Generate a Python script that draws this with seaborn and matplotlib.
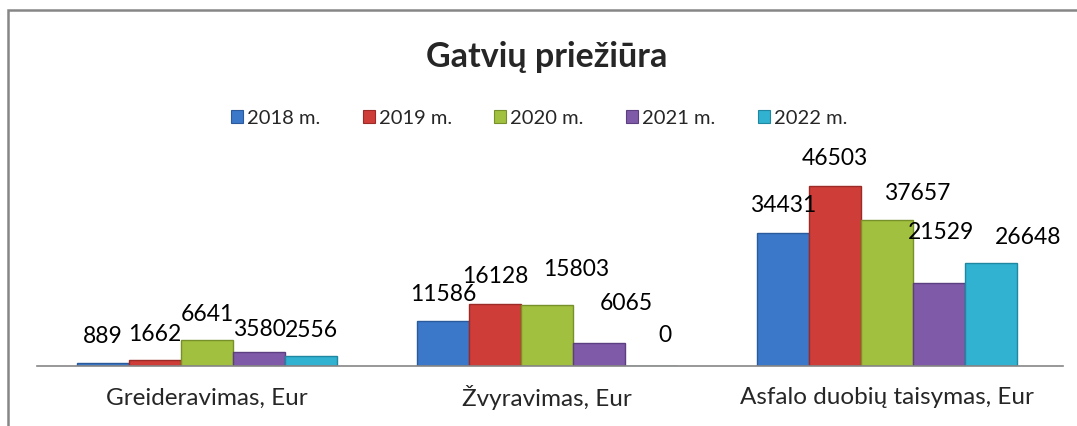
import pandas as pd
import matplotlib.pyplot as plt
import seaborn as sns
from matplotlib.patches import Rectangle

categories = ["Greideravimas, Eur", "Žvyravimas, Eur", "Asfalo duobių taisymas, Eur"]
years = ["2018 m.", "2019 m.", "2020 m.", "2021 m.", "2022 m."]
v2018 = [889, 11586, 34431]
v2019 = [1662, 16128, 46503]
v2020 = [6641, 15803, 37657]
v2021 = [3580, 6065, 21529]
v2022 = [2556, 0, 26648]
colors = ["#3b78c9", "#cf3d38", "#a2c03f", "#7f5aa8", "#30b2d0"]
edges = ["#2a5a9c", "#9c2a26", "#76902a", "#5c3f80", "#1f87a0"]

# label nudges (pixels) so the labels sit like in the original
nudge_x = [[0, 0, 0], [0, 0, 0], [0, 29, 30], [0, 27, 2], [0, 14, 37]]
nudge_y = [[0, 1, 1], [-1, 1, 2], [0, 9, 1], [-3, 13, 24], [0, 5, -1]]

series = [v2018, v2019, v2020, v2021, v2022]
rows = []
for year, vals in zip(years, series):
    for cat, v in zip(categories, vals):
        rows.append({"cat": cat, "year": year, "value": v})
df = pd.DataFrame(rows)

sns.set_style("white")
plt.rcParams["font.family"] = ["Lato", "DejaVu Sans"]

fig = plt.figure(figsize=(10.77, 4.26), dpi=100)
ax = fig.add_axes([37 / 1077, 60 / 426, 1026 / 1077, 216.7 / 426])

sns.barplot(data=df, x="cat", y="value", hue="year", palette=colors,
            width=0.765, saturation=1, ax=ax, legend=False)

for i, (cont, ec) in enumerate(zip(ax.containers, edges)):
    for j, bar in enumerate(cont):
        bar.set_edgecolor(ec)
        bar.set_linewidth(1.0)
        ax.annotate(str(series[i][j]),
                    xy=(bar.get_x() + bar.get_width() / 2, bar.get_height()),
                    xytext=(nudge_x[i][j], 26 + nudge_y[i][j]), textcoords="offset pixels",
                    ha="center", va="center", fontsize=16.5, color="black")

ax.set_ylim(0, 56000)
ax.set_xlim(-0.5, 2.518)
ax.set_xlabel("")
ax.set_ylabel("")
ax.set_yticks([])
ax.tick_params(axis="x", length=0, pad=23, labelsize=17.5)
for lab in ax.get_xticklabels():
    lab.set_va("center")
for s in ["top", "left", "right"]:
    ax.spines[s].set_visible(False)
ax.spines["bottom"].set_color("#868686")
ax.spines["bottom"].set_linewidth(1.2)

# title and legend
fig.text(547 / 1077, 1 - 57 / 426, "Gatvių priežiūra", ha="center", va="center",
         fontsize=24.5, fontweight="bold")
handles = [Rectangle((0, 0), 1, 1, facecolor=c, edgecolor=e, lw=0.8) for c, e in zip(colors, edges)]
fig.legend(handles, years, loc="center", bbox_to_anchor=(539 / 1077, 1 - 118 / 426),
           ncol=5, frameon=False, fontsize=14.5, handlelength=0.6, handleheight=0.6,
           handletextpad=0.2, columnspacing=2.1)

# chart border (cropped frame)
fig.add_artist(Rectangle((8 / 1077, -0.2), 1.2, 1 - 10 / 426 + 0.2, transform=fig.transFigure,
                         fill=False, edgecolor="#868686", lw=1.8))

plt.savefig("out.png", dpi=100)
